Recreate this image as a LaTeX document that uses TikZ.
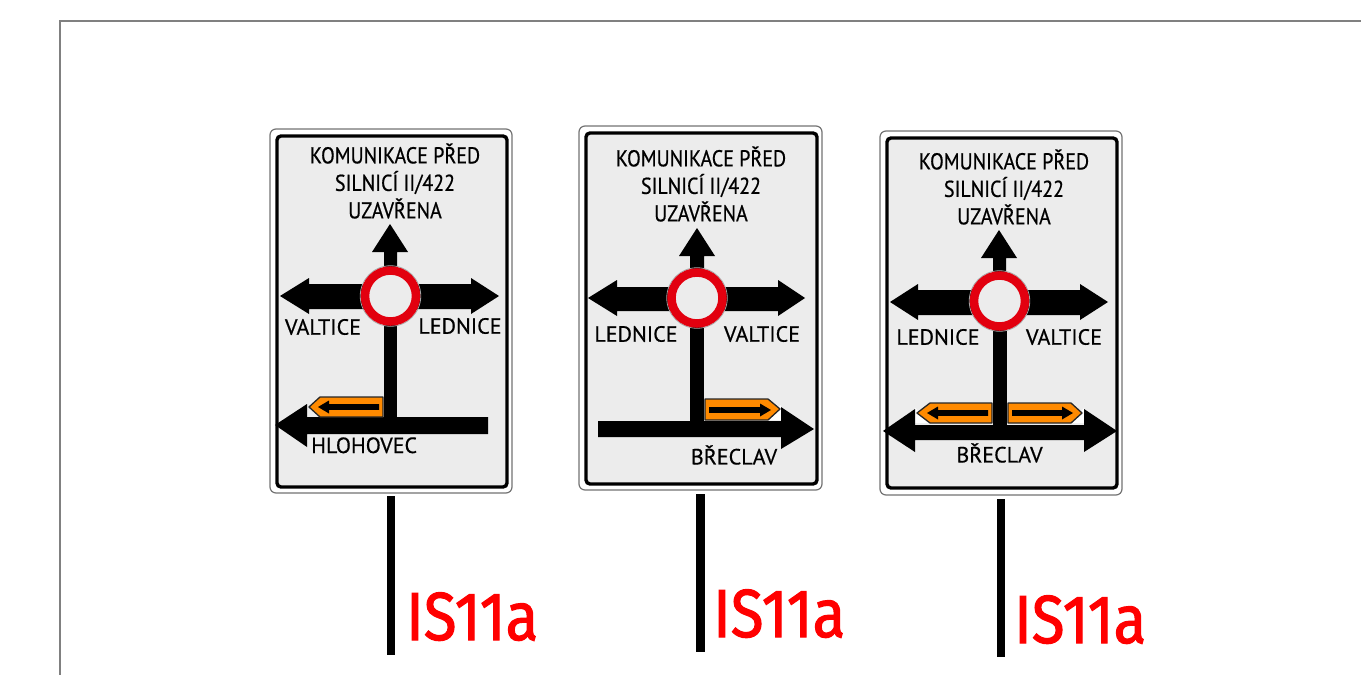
\documentclass[tikz,border=0pt]{standalone}
\usepackage{xcolor}
\usepackage{fontspec}
\setmainfont{PT Sans}[FakeBold=0.6]
\newfontfamily\titlefont{PT Sans}[FakeStretch=0.87, FakeBold=0.6]
\newfontfamily\labelfont{Fira Sans}[FakeStretch=0.88, FakeBold=1.6]
\definecolor{signgray}{HTML}{ECECEC}
\definecolor{ringred}{HTML}{E2000F}
\definecolor{workorange}{HTML}{FF8A00}
\tikzset{
  boardouter/.style={draw=black!55, line width=1.2pt, fill=white, rounded corners=6pt},
  boardinner/.style={draw=black, line width=3.4pt, fill=signgray, rounded corners=4pt},
  roadarrow/.style={fill=black, draw=none},
  workarrow/.style={draw=black!85, line width=1.3pt, fill=workorange, line join=round},
  worktip/.style={fill=black, draw=none},
  ringsign/.style={circle, draw=ringred, line width=8.5pt, fill=signgray, minimum size=51pt, inner sep=0pt},
  ringedge/.style={circle, draw=black!35, line width=0.8pt, minimum size=60.5pt, inner sep=0pt},
  signtext/.style={font=\fontsize{22}{27}\selectfont, text=black, inner sep=0pt, align=center},
  titletext/.style={font=\titlefont\fontsize{23}{27.5}\selectfont, text=black, inner sep=0pt, align=center},
  signpost/.style={draw=black, line width=8.5pt},
  codelabel/.style={font=\labelfont\fontsize{68}{68}\selectfont, text=red, inner sep=0pt, anchor=base west}
}
\begin{document}
\begin{tikzpicture}[x=1pt, y=-1pt]
  \useasboundingbox (0,0) rectangle (1361,675);
  % page frame
  \draw[black!50, line width=2pt] (60,675) -- (60,21) -- (1361,21);

  % left sign
  \draw[boardouter] (270,129) rectangle (512,493);
  \draw[boardinner] (277,136) rectangle (507,487);
  \node[titletext] (titleA) at (395,181) {KOMUNIKACE PŘED\\SILNICÍ II/422\\UZAVŘENA};
  \fill[roadarrow] (390,224) -- (408,252) -- (397,252) -- (397,275) -- (384,275) -- (384,252) -- (372,252) -- cycle;
  \fill[roadarrow] (280,296) -- (309,278) -- (309,284) -- (471,284) -- (471,278) -- (499,296) -- (471,314) -- (471,309) -- (309,309) -- (309,314) -- cycle;
  \fill[roadarrow] (384,310) rectangle (397,420);
  \fill[roadarrow] (275,425) -- (307,404) -- (307,417) -- (488,417) -- (488,434) -- (307,434) -- (307,447) -- cycle;
  \node[ringedge] (edgeA) at (390.5,296) {};
  \node[ringsign] (ringA) at (390.5,296) {};
  \node[signtext] (valticeA) at (323,327) {VALTICE};
  \node[signtext] (ledniceA) at (460,326) {LEDNICE};
  \draw[workarrow] (383,397) -- (320,397) -- (309,407) -- (320,417) -- (383,417) -- cycle;
  \fill[worktip] (318,407) -- (329,400.5) -- (329,404.2) -- (379,404.2) -- (379,409.8) -- (329,409.8) -- (329,413.5) -- cycle;
  \node[signtext, anchor=base west] (roadA) at (311,453) {HLOHOVEC};
  \draw[signpost] (391,496) -- (391,655);
  \node[codelabel] (codeA) at (406,640) {IS11a};

  % middle sign
  \draw[boardouter] (579,126) rectangle (822,490);
  \draw[boardinner] (586,133) rectangle (817,484);
  \node[titletext] (titleB) at (701,184) {KOMUNIKACE PŘED\\SILNICÍ II/422\\UZAVŘENA};
  \fill[roadarrow] (697,228) -- (715,256) -- (704,256) -- (704,278) -- (690,278) -- (690,256) -- (679,256) -- cycle;
  \fill[roadarrow] (588,298) -- (617,280) -- (617,287) -- (778,287) -- (778,280) -- (805,298) -- (778,316) -- (778,311) -- (617,311) -- (617,316) -- cycle;
  \fill[roadarrow] (690,315) rectangle (704,425);
  \fill[white] (760,420) -- (781,420) -- (781,405) -- cycle;
  \fill[roadarrow] (814,429) -- (781,407) -- (781,421) -- (598,421) -- (598,437) -- (781,437) -- (781,449) -- cycle;
  \node[ringedge] (edgeB) at (697,298) {};
  \node[ringsign] (ringB) at (697,298) {};
  \node[signtext] (ledniceB) at (636,334) {LEDNICE};
  \node[signtext] (valticeB) at (762,334) {VALTICE};
  \draw[workarrow] (705,399) -- (768,399) -- (780,409) -- (768,420) -- (705,420) -- cycle;
  \fill[worktip] (771,410) -- (760,403.5) -- (760,407.2) -- (709,407.2) -- (709,412.8) -- (760,412.8) -- (760,416.5) -- cycle;
  \node[signtext] (roadB) at (734,455) {BŘECLAV};
  \draw[signpost] (700.5,494) -- (700.5,652);
  \node[codelabel] (codeB) at (713,637) {IS11a};

  % right sign
  \draw[boardouter] (880,131) rectangle (1122,495);
  \draw[boardinner] (887,138) rectangle (1117,488);
  \node[titletext] (titleC) at (1004,187) {KOMUNIKACE PŘED\\SILNICÍ II/422\\UZAVŘENA};
  \fill[roadarrow] (999,230) -- (1017,258) -- (1006,258) -- (1006,280) -- (993,280) -- (993,258) -- (981,258) -- cycle;
  \fill[roadarrow] (890,302) -- (918,284) -- (918,290) -- (1080,290) -- (1080,284) -- (1108,302) -- (1080,320) -- (1080,315) -- (918,315) -- (918,320) -- cycle;
  \fill[roadarrow] (993,320) rectangle (1007,430);
  \fill[white] (915,423) -- (930,423) -- (915,408) -- cycle;
  \fill[white] (1084,423) -- (1070,423) -- (1084,408) -- cycle;
  \fill[roadarrow] (883,431) -- (915,409) -- (915,425) -- (1084,425) -- (1084,409) -- (1117,431) -- (1084,452) -- (1084,440) -- (915,440) -- (915,452) -- cycle;
  \node[ringedge] (edgeC) at (999.5,301) {};
  \node[ringsign] (ringC) at (999.5,301) {};
  \node[signtext] (ledniceC) at (938,337) {LEDNICE};
  \node[signtext] (valticeC) at (1064,337) {VALTICE};
  \draw[workarrow] (992,403) -- (930,403) -- (917,413) -- (930,423) -- (992,423) -- cycle;
  \fill[worktip] (927,413) -- (938,406.5) -- (938,410.2) -- (988,410.2) -- (988,415.8) -- (938,415.8) -- (938,419.5) -- cycle;
  \draw[workarrow] (1008,403) -- (1071,403) -- (1082,413) -- (1071,423) -- (1008,423) -- cycle;
  \fill[worktip] (1073,413) -- (1062,406.5) -- (1062,410.2) -- (1012,410.2) -- (1012,415.8) -- (1062,415.8) -- (1062,419.5) -- cycle;
  \node[signtext] (roadC) at (999.5,453) {BŘECLAV};
  \draw[signpost] (1001,499) -- (1001,657);
  \node[codelabel] (codeC) at (1014,643) {IS11a};
\end{tikzpicture}
\end{document}
